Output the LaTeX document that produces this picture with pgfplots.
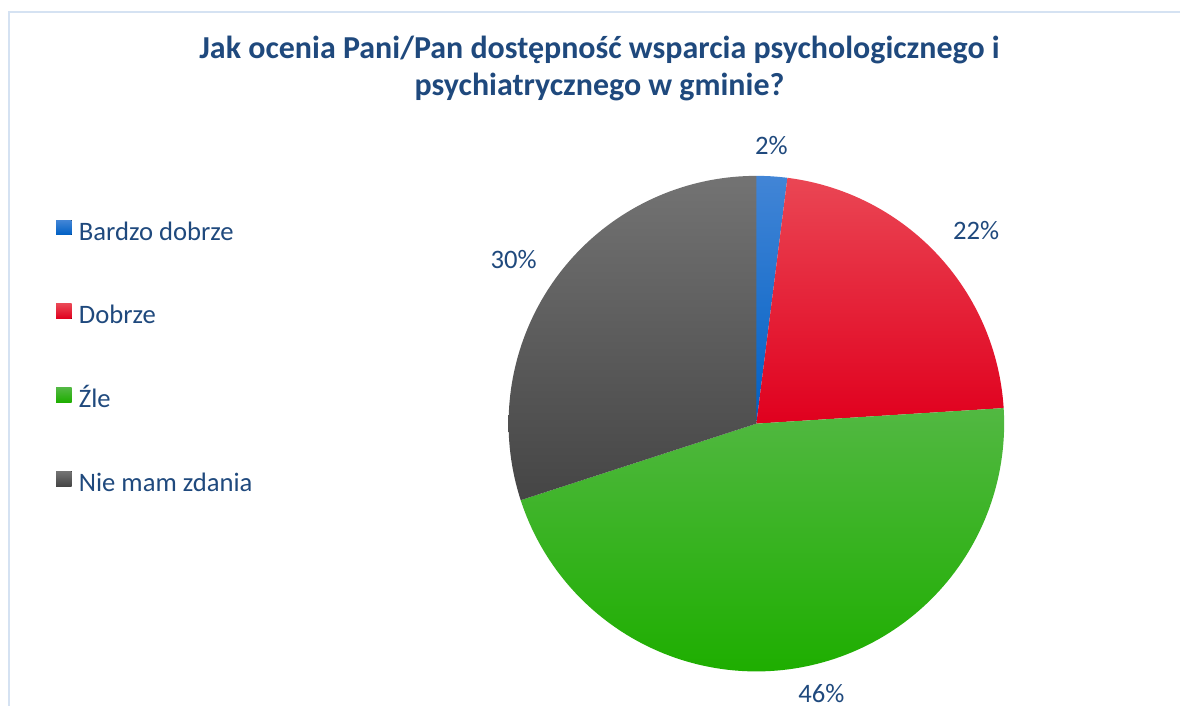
\documentclass[border=0pt]{standalone}
\usepackage{pgfplots}
\pgfplotsset{compat=1.18}
\usepackage{pgfplotstable}
\usepackage{fontspec}
\setmainfont{Carlito}
\definecolor{txt}{HTML}{1F497D}
\definecolor{framec}{HTML}{D5E2F2}
\definecolor{blueT}{HTML}{4285D6}
\definecolor{blueB}{HTML}{0060C4}
\definecolor{redT}{HTML}{EA4654}
\definecolor{redB}{HTML}{E0001E}
\definecolor{greenT}{HTML}{52B842}
\definecolor{greenB}{HTML}{1EAE00}
\definecolor{grayT}{HTML}{737373}
\definecolor{grayB}{HTML}{454545}

\pgfplotstableread{
idx value
0 2
1 22
2 46
3 30
}\piedata
\pgfplotstablegetelem{0}{value}\of\piedata \let\vA\pgfplotsretval
\pgfplotstablegetelem{1}{value}\of\piedata \let\vB\pgfplotsretval
\pgfplotstablegetelem{2}{value}\of\piedata \let\vC\pgfplotsretval
\pgfplotstablegetelem{3}{value}\of\piedata \let\vD\pgfplotsretval
\pgfmathsetmacro\aZ{90}
\pgfmathsetmacro\aA{90-3.6*\vA}
\pgfmathsetmacro\aB{\aA-3.6*\vB}
\pgfmathsetmacro\aC{\aB-3.6*\vC}
\pgfmathsetmacro\aD{\aC-3.6*\vD}

\begin{document}
\begin{tikzpicture}
\begin{axis}[
  width=885.75pt, height=530.25pt, scale only axis,
  xmin=0, xmax=1181, ymin=0, ymax=707,
  hide axis, clip=false,
  legend style={at={(axis cs:56,487)}, anchor=north west, draw=none, fill=none,
    font=\fontsize{20}{24}\selectfont, text=txt, row sep=43.4pt,
    inner sep=0pt, nodes={inner sep=0pt, text height=13.5pt, text depth=4.5pt}},
  legend cell align=left,
  legend image code/.code={\fill[#1] (0pt,-0.5pt) rectangle (11.5pt,10.5pt); \path (0pt,0pt) -- (17pt,0pt);},
]
\path (axis cs:0,0) rectangle (axis cs:1181,707);
\draw[framec, line width=1.5pt] (axis cs:1181,695) -- (axis cs:9,695) -- (axis cs:9,0);

\addplot[draw=none, top color=blueT, bottom color=blueB, domain=\aA:\aZ, samples=10, variable=\t]
  ({757+248*cos(\t)},{283+248*sin(\t)}) -- (axis cs:757,283) -- cycle;
\addplot[draw=none, top color=redT, bottom color=redB, domain=\aB:\aA, samples=60, variable=\t]
  ({757+248*cos(\t)},{283+248*sin(\t)}) -- (axis cs:757,283) -- cycle;
\addplot[draw=none, top color=greenT, bottom color=greenB, domain=\aC:\aB, samples=120, variable=\t]
  ({757+248*cos(\t)},{283+248*sin(\t)}) -- (axis cs:757,283) -- cycle;
\addplot[draw=none, top color=grayT, bottom color=grayB, domain=\aD:\aC, samples=80, variable=\t]
  ({757+248*cos(\t)},{283+248*sin(\t)}) -- (axis cs:757,283) -- cycle;
\legend{Bardzo dobrze, Dobrze, Źle, Nie mam zdania}

\node[anchor=base, text=txt, font=\fontsize{24}{28}\selectfont\bfseries] at (axis cs:600,648) {Jak ocenia Pani/Pan dostępność wsparcia psychologicznego i};
\node[anchor=base, text=txt, font=\fontsize{24}{28}\selectfont\bfseries] at (axis cs:600,611) {psychiatrycznego w gminie?};

\node[anchor=base, text=txt, font=\fontsize{20}{24}\selectfont] at (axis cs:772,552) {2\%};
\node[anchor=base, text=txt, font=\fontsize{20}{24}\selectfont] at (axis cs:977,467) {22\%};
\node[anchor=base, text=txt, font=\fontsize{20}{24}\selectfont] at (axis cs:514,438) {30\%};
\node[anchor=base, text=txt, font=\fontsize{20}{24}\selectfont] at (axis cs:822,4) {46\%};
\end{axis}
\end{tikzpicture}
\end{document}
